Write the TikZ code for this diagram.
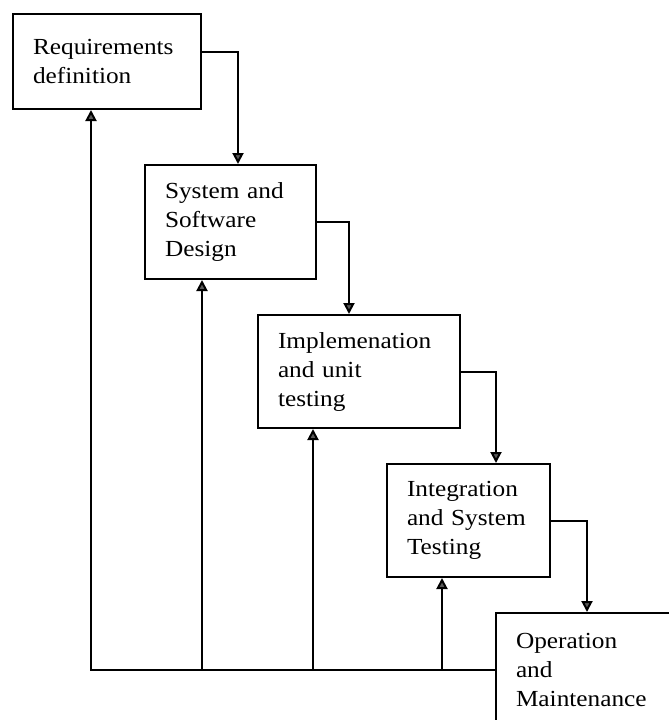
\documentclass[tikz,border=0pt]{standalone}
\usepackage{fontspec}
\setmainfont{Liberation Serif}[FakeStretch=1.1]
\usetikzlibrary{arrows.meta}

\tikzset{
  phase/.style={draw, line width=2pt, anchor=north west, align=left,
    inner xsep=20pt, inner ysep=0pt, font=\fontsize{23}{29}\selectfont},
  flow/.style={line width=2pt, -{Triangle[width=11pt,length=11pt,fill=black!65]}},
}

\begin{document}
\begin{tikzpicture}[x=1pt,y=-1pt]
				\useasboundingbox (0,0) rectangle (669,720);
				\clip (0,0) rectangle (669,720);
				% Phases
				\node[phase, text width=148pt, minimum height=95pt] (req) at (12,13) {Requirements\\definition};
				\node[phase, text width=131pt, minimum height=114pt] (des) at (144,164) {System and\\Software\\Design};
				\node[phase, text width=162pt, minimum height=113pt] (imp) at (257,314) {Implemenation\\and unit\\testing};
				\node[phase, text width=123pt, minimum height=113pt] (int) at (386,463) {Integration\\and System\\Testing};
				\node[phase, text width=140pt, minimum height=113pt] (ops) at (495,612) {Operation\\and\\Maintenance};
				% Cascade
				\draw[flow] ([yshift=9.5pt]req.east) -| ([xshift=7.5pt]des.north);
				\draw[flow] (des.east) -| ([xshift=-10pt]imp.north);
				\draw[flow] (imp.east) -| ([xshift=27.5pt]int.north);
				\draw[flow] (int.east) -| ([xshift=1pt]ops.north);
				% Feedback
				\draw[flow] (ops.west) -| ([xshift=-16pt]req.south);
				\foreach \x/\n in {202/des,313/imp,442/int}{
					\coordinate (up\n) at (\x,0 |- ops.west);
					\draw[flow] (up\n) -- (up\n |- \n.south);
				}
			\end{tikzpicture}
\end{document}
